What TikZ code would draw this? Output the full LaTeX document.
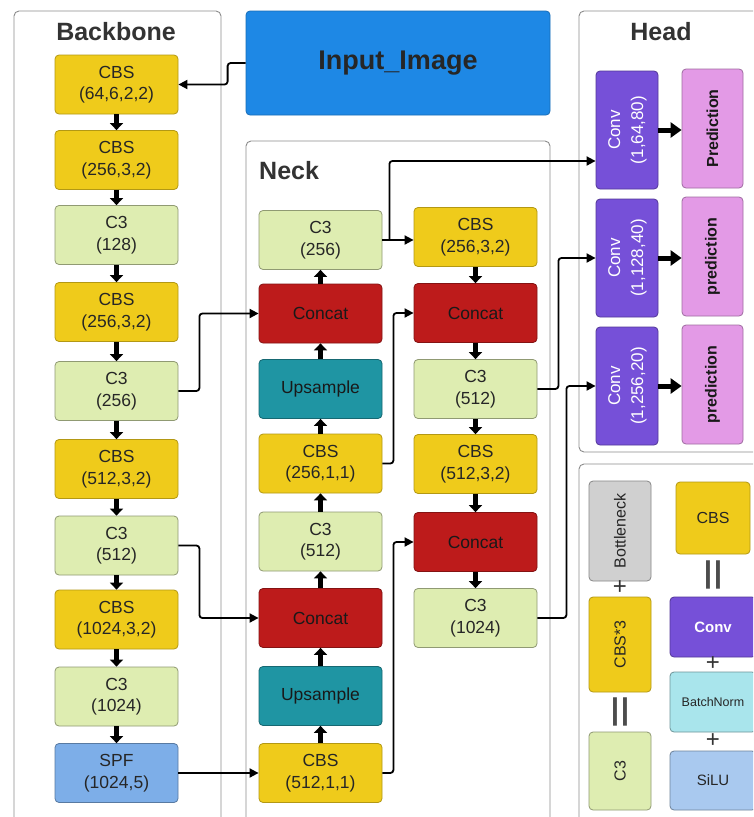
\documentclass[tikz,border=0pt]{standalone}
\usepackage{fontspec}
\usepackage{graphicx}
\setmainfont{Liberation Sans}
\usetikzlibrary{arrows.meta,calc}
\definecolor{cbsY}{HTML}{EFCB1B}
\definecolor{cG}{HTML}{DEEDB1}
\definecolor{catR}{HTML}{BD1B1B}
\definecolor{upT}{HTML}{1F95A3}
\definecolor{spfB}{HTML}{7DAEE8}
\definecolor{convP}{HTML}{7650D8}
\definecolor{predP}{HTML}{E39AE6}
\definecolor{bnG}{HTML}{D0D0D0}
\definecolor{bnC}{HTML}{A9E5EC}
\definecolor{siluB}{HTML}{A9C9EF}
\definecolor{inBlue}{HTML}{1E88E5}
\begin{document}
\begin{tikzpicture}[x=1pt,y=-1pt,
  box/.style={rectangle, rounded corners=4pt, line width=0.8pt, align=center, text=black!85, inner sep=0pt, font=\fontsize{17.5}{21.5}\selectfont},
  bb/.style={box, minimum width=123pt, minimum height=59pt},
  cbs/.style={bb, fill=cbsY, draw=cbsY!75!black},
  cthree/.style={bb, fill=cG, draw=cG!65!black},
  concat/.style={bb, fill=catR, draw=catR!70!black, text=black!90},
  upsamp/.style={bb, fill=upT, draw=upT!70!black, text=black!90},
  spf/.style={bb, fill=spfB, draw=spfB!70!black},
  convbox/.style={box, minimum width=62pt, minimum height=118pt, fill=convP, draw=convP!70!black, text=white, font=\fontsize{17}{23}\selectfont},
  predbox/.style={box, minimum width=61pt, minimum height=119pt, fill=predP, draw=predP!70!black, text=black!90, font=\fontsize{16}{20}\selectfont\bfseries},
  legbox/.style={box, font=\fontsize{16}{20}\selectfont},
  sym/.style={text=black!80, inner sep=0pt, font=\fontsize{24}{24}\selectfont},
  bars/.style={text=black!70, inner sep=0pt, font=\fontsize{30}{30}\selectfont\bfseries},
  panel/.style={draw=black!45, line width=0.9pt, rounded corners=5pt},
  title/.style={font=\fontsize{25}{30}\selectfont\bfseries, text=black!80, inner sep=0pt},
  fat/.style={line width=4.5pt, -{Triangle[width=13pt,length=7pt]}},
  fatH/.style={line width=5pt, -{Triangle[width=15pt,length=11pt]}},
  wire/.style={line width=1.8pt, rounded corners=3pt, -{Triangle[width=9pt,length=9pt]}},
]
\useasboundingbox (0,0) rectangle (753,817);
\clip (0,0) rectangle (753,817);
\fill[white] (0,0) rectangle (753,817);

% panels
\draw[panel] (14,11) rectangle (221,850);
\draw[panel] (246,141) rectangle (550,850);
\draw[panel] (579,11) rectangle (770,452);
\draw[panel] (579,464) rectangle (770,850);

% titles
\node[title] (tb) at (116,32) {Backbone};
\node[title, anchor=west] (tn) at (259,171) {Neck};
\node[title] (th) at (661,32) {Head};

% input
\node[box, fill=inBlue, draw=inBlue!80!black, minimum width=304pt, minimum height=104pt, font=\fontsize{27}{30}\selectfont\bfseries, text=black!85] (inp) at (398,63) {Input\_Image};

% backbone
\node[cbs] (b1) at (116.5,84.5) {CBS\\(64,6,2,2)};
\node[cbs] (b2) at (116.5,160) {CBS\\(256,3,2)};
\node[cthree] (b3) at (116.5,235) {C3\\(128)};
\node[cbs] (b4) at (116.5,312) {CBS\\(256,3,2)};
\node[cthree] (b5) at (116.5,391) {C3\\(256)};
\node[cbs] (b6) at (116.5,469) {CBS\\(512,3,2)};
\node[cthree] (b7) at (116.5,545.5) {C3\\(512)};
\node[cbs] (b8) at (116.5,619.5) {CBS\\(1024,3,2)};
\node[cthree] (b9) at (116.5,696.5) {C3\\(1024)};
\node[spf] (b10) at (116.5,773) {SPF\\(1024,5)};

% neck left
\node[cthree] (n1) at (320.5,240) {C3\\(256)};
\node[concat] (n2) at (320.5,313.5) {Concat};
\node[upsamp] (n3) at (320.5,389) {Upsample};
\node[cbs] (n4) at (320.5,463.5) {CBS\\(256,1,1)};
\node[cthree] (n5) at (320.5,541.5) {C3\\(512)};
\node[concat] (n6) at (320.5,618) {Concat};
\node[upsamp] (n7) at (320.5,696) {Upsample};
\node[cbs] (n8) at (320.5,773) {CBS\\(512,1,1)};

% neck right
\node[cbs] (r1) at (475.5,237) {CBS\\(256,3,2)};
\node[concat] (r2) at (475.5,313) {Concat};
\node[cthree] (r3) at (475.5,389) {C3\\(512)};
\node[cbs] (r4) at (475.5,464) {CBS\\(512,3,2)};
\node[concat] (r5) at (475.5,542) {Concat};
\node[cthree] (r6) at (475.5,618) {C3\\(1024)};

% head
\node[convbox] (c1) at (627,130) {\rotatebox{90}{\begin{tabular}{@{}c@{}}Conv\\(1,64,80)\end{tabular}}};
\node[convbox] (c2) at (627,258) {\rotatebox{90}{\begin{tabular}{@{}c@{}}Conv\\(1,128,40)\end{tabular}}};
\node[convbox] (c3) at (627,386) {\rotatebox{90}{\begin{tabular}{@{}c@{}}Conv\\(1,256,20)\end{tabular}}};
\node[predbox] (p1) at (712.5,128.5) {\rotatebox{90}{Prediction}};
\node[predbox] (p2) at (712.5,256.5) {\rotatebox{90}{prediction}};
\node[predbox] (p3) at (712.5,384.5) {\rotatebox{90}{prediction}};

% legend
\node[legbox, fill=bnG, draw=bnG!65!black, minimum width=62pt, minimum height=100pt] (l1) at (620,531) {\rotatebox{90}{Bottleneck}};
\node[legbox, fill=cbsY, draw=cbsY!75!black, minimum width=62pt, minimum height=95pt] (l2) at (620,644.5) {\rotatebox{90}{CBS*3}};
\node[legbox, fill=cG, draw=cG!65!black, minimum width=62pt, minimum height=78pt] (l3) at (620,771) {\rotatebox{90}{C3}};
\node[sym] (lp1) at (620,588) {+};
\node[bars] (ld1) at (620,712) {|\kern1.5pt|};
\node[legbox, fill=cbsY, draw=cbsY!75!black, minimum width=74pt, minimum height=72pt] (m1) at (713,518) {CBS};
\node[bars] (md1) at (713,575) {|\kern1.5pt|};
\node[legbox, fill=convP, draw=convP!70!black, minimum width=86pt, minimum height=60pt, text=white, font=\fontsize{15}{18}\selectfont\bfseries] (m2) at (713,627) {Conv};
\node[sym] (mp1) at (713,664) {+};
\node[legbox, fill=bnC, draw=bnC!65!black, minimum width=86pt, minimum height=60pt, font=\fontsize{12.5}{15}\selectfont] (m3) at (713,702) {BatchNorm};
\node[sym] (mp2) at (713,741) {+};
\node[legbox, fill=siluB, draw=siluB!65!black, minimum width=86pt, minimum height=59pt, font=\fontsize{15}{18}\selectfont] (m4) at (713,780.5) {SiLU};

% connectors
\draw[wire] (inp.west) -- ++(-18,0) |- (b1.east);
\foreach \src/\dst in {b1/b2,b2/b3,b3/b4,b4/b5,b5/b6,b6/b7,b7/b8,b8/b9,b9/b10}
  \draw[fat] (\src.south) -- (\dst.north);
\draw[wire] (b5.east) -- ++(21,0) |- (n2.west);
\draw[wire] (b7.east) -- ++(21,0) |- (n6.west);
\draw[wire] (b10.east) -- (n8.west);
\foreach \src/\dst in {n8/n7,n7/n6,n6/n5,n5/n4,n4/n3,n3/n2,n2/n1}
  \draw[fat] (\src.north) -- (\dst.south);
\draw[wire] (n1.east) -- (r1.west |- n1.east);
\coordinate (j1) at ($(n1.east)+(7,0)$);
\draw[wire] (j1) |- ($(c1.west)+(0,31)$);
\foreach \src/\dst in {r1/r2,r2/r3,r3/r4,r4/r5,r5/r6}
  \draw[fat] (\src.south) -- (\dst.north);
\draw[wire] (n4.east) -- ++(11,0) |- (r2.west);
\draw[wire] (n8.east) -- ++(11,0) |- (r5.west);
\draw[wire] (r3.east) -- ++(21,0) |- (c2.west);
\draw[wire] (r6.east) -- ++(29,0) |- (c3.west);
\draw[fatH] (c1.east) -- (p1.west |- c1.east);
\draw[fatH] (c2.east) -- (p2.west |- c2.east);
\draw[fatH] (c3.east) -- (p3.west |- c3.east);
\end{tikzpicture}
\end{document}
